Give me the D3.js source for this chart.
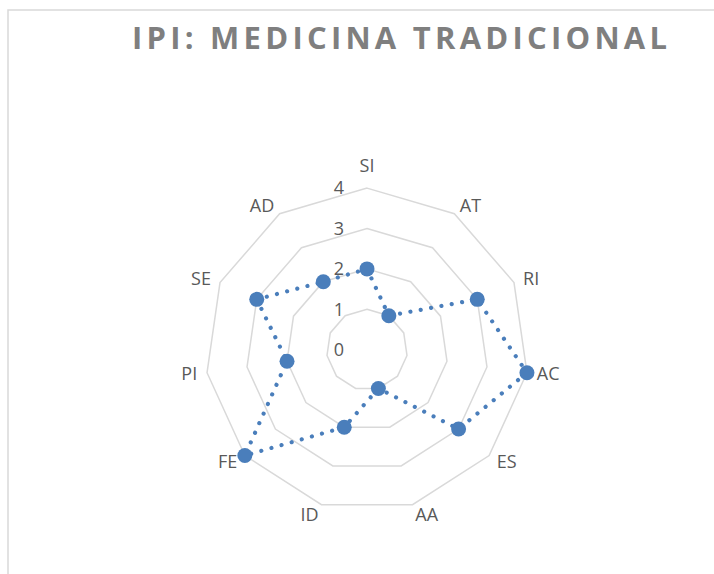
<!DOCTYPE html>
<html>
<head>
<meta charset="utf-8">
<script src="https://cdn.jsdelivr.net/npm/d3@7"></script>
<style>
  html, body { margin: 0; padding: 0; background: #fff; }
  svg { display: block; }
  text { font-family: "Open Sans", "Liberation Sans", sans-serif; }
</style>
</head>
<body>
<div class="radar-container"></div>
<script>
// datos del gráfico
const categorias = ['SI', 'AT', 'RI', 'AC', 'ES', 'AA', 'ID', 'FE', 'PI', 'SE', 'AD'];
const valores = [2, 1, 3, 4, 3, 1, 2, 4, 2, 3, 2];
const ticks = [0, 1, 2, 3, 4];
const titulo = 'IPI: MEDICINA TRADICIONAL';

const svg_width = 714;
const svg_height = 574;
const cx = 367, cy = 349.7, R = 161.6;

const svg = d3.select('.radar-container').append('svg')
  .attr('width', svg_width).attr('height', svg_height);

// borde del área del gráfico
svg.append('path')
  .attr('d', `M8,${svg_height} L8,10 L${svg_width},10`)
  .attr('fill', 'none').attr('stroke', '#d9d9d9').attr('stroke-width', 1.5);

// título
svg.append('text')
  .attr('x', 399.5).attr('y', 49.3)
  .attr('text-anchor', 'middle')
  .attr('textLength', 535).attr('lengthAdjust', 'spacing')
  .style('font-size', '31px').style('font-weight', 'bold')
  .style('fill', '#7f7f7f')
  .text(titulo);

const g = svg.append('g').attr('transform', `translate(${cx},${cy})`);

const rScale = d3.scaleLinear().domain([0, d3.max(ticks)]).range([0, R]);
const aScale = d3.scaleBand().domain(categorias).range([0, 2 * Math.PI]);

// anillos de la cuadrícula
const ring = v => d3.lineRadial()
  .angle(c => aScale(c))
  .radius(() => rScale(v))
  .curve(d3.curveLinearClosed)(categorias);

g.selectAll('.grid')
  .data(ticks.filter(t => t > 0))
  .enter().append('path')
  .attr('class', 'grid')
  .attr('d', d => ring(d))
  .attr('fill', 'none').attr('stroke', '#d9d9d9').attr('stroke-width', 1.5);

// etiquetas del eje radial
g.selectAll('.tick-label')
  .data(ticks)
  .enter().append('text')
  .attr('class', 'tick-label')
  .attr('x', -23).attr('y', d => -rScale(d))
  .attr('dy', '0.35em').attr('text-anchor', 'end')
  .style('font-size', '18px').style('fill', '#595959')
  .text(d => d);

// etiquetas de categorías
g.selectAll('.cat-label')
  .data(categorias)
  .enter().append('text')
  .attr('class', 'cat-label')
  .each(function(c) {
    const a = aScale(c);
    const s = Math.sin(a), co = Math.cos(a);
    const r = R + 10;
    let x = r * s, y = -r * co;
    let anchor = 'middle';
    if (s > 0.1) anchor = 'start';
    else if (s < -0.1) anchor = 'end';
    else y -= co * 12;
    d3.select(this).attr('x', x).attr('y', y).attr('dy', '0.35em')
      .attr('text-anchor', anchor);
  })
  .style('font-size', '18px').style('fill', '#595959')
  .text(c => c);

// serie
const serie = categorias.map((c, i) => ({cat: c, val: valores[i]}));
const linea = d3.lineRadial()
  .angle(d => aScale(d.cat))
  .radius(d => rScale(d.val))
  .curve(d3.curveLinearClosed);

g.append('path')
  .attr('d', linea(serie))
  .attr('fill', 'none').attr('stroke', '#4a7ebb')
  .attr('stroke-width', 4.2)
  .attr('stroke-linecap', 'round')
  .attr('stroke-dasharray', '0.01 10.5');

g.selectAll('.marker')
  .data(serie)
  .enter().append('circle')
  .attr('class', 'marker')
  .attr('cx', d => rScale(d.val) * Math.sin(aScale(d.cat)))
  .attr('cy', d => -rScale(d.val) * Math.cos(aScale(d.cat)))
  .attr('r', 7.5)
  .attr('fill', '#4a7ebb');
</script>
</body>
</html>
